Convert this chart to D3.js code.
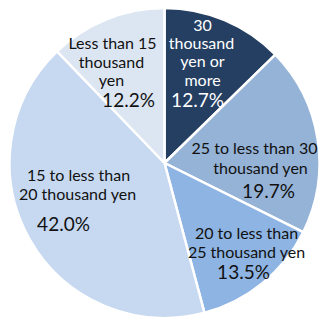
<!DOCTYPE html>
<html>
<head>
<meta charset="utf-8">
<script src="https://cdn.jsdelivr.net/npm/d3@7/dist/d3.min.js"></script>
<style>
  html, body { margin: 0; padding: 0; background: #fff; }
  svg { display: block; }
  text { font-family: Lato, "Open Sans", sans-serif; }
</style>
</head>
<body>
<svg id="chart" width="330" height="320"></svg>
<script>
// Monthly amount brackets, clockwise from 12 o'clock
const categories = [
  "30 thousand yen or more",
  "25 to less than 30 thousand yen",
  "20 to less than 25 thousand yen",
  "15 to less than 20 thousand yen",
  "Less than 15 thousand yen"
];
const shares = [12.7, 19.7, 13.5, 42.0, 12.2];
// How each category name wraps inside its slice
const labelLines = [
  ["30", "thousand", "yen or", "more"],
  ["25 to less than 30", "thousand yen"],
  ["20 to less than", "25 thousand yen"],
  ["15 to less than", "20 thousand yen"],
  ["Less than 15", "thousand", "yen"]
];
const sliceColors = ["#253f62", "#95b3d7", "#8eb4e3", "#c6d9f1", "#dce6f2"];
const textColors = ["#ffffff", "#111111", "#111111", "#111111", "#111111"];

// Label placement relative to the pie centre: line centres and percentage centre
const labelLayout = [
  { lines: [[38, -139], [37, -121], [38, -103], [38, -84]], pct: [33, -64] },
  { lines: [[90, -16], [96, 4]], pct: [104, 27] },
  { lines: [[82, 69], [82, 88]], pct: [79, 108] },
  { lines: [[-86, 11], [-87, 30]], pct: [-101, 60] },
  { lines: [[-52, -121], [-53, -102], [-53, -84]], pct: [-36, -64] }
];

const width = 330, height = 320;
const cx = 164.5, cy = 163, radius = 155;

const svg = d3.select("#chart");
const g = svg.append("g").attr("transform", `translate(${cx},${cy})`);

const data = categories.map((c, i) => ({ category: c, value: shares[i], i }));

const pie = d3.pie().sort(null).value(d => d.value);
const arc = d3.arc().innerRadius(0).outerRadius(radius);
const arcs = pie(data);

g.selectAll("path.slice")
  .data(arcs)
  .join("path")
  .attr("class", "slice")
  .attr("d", arc)
  .attr("fill", d => sliceColors[d.data.i])
  .attr("stroke", "#ffffff")
  .attr("stroke-width", 2.5)
  .attr("stroke-linejoin", "round");

const labels = g.selectAll("g.label")
  .data(arcs)
  .join("g")
  .attr("class", "label")
  .attr("fill", d => textColors[d.data.i]);

labels.each(function(d) {
  const i = d.data.i;
  const sel = d3.select(this);
  const lay = labelLayout[i];
  labelLines[i].forEach((line, k) => {
    sel.append("text")
      .attr("x", lay.lines[k][0])
      .attr("y", lay.lines[k][1])
      .attr("text-anchor", "middle")
      .attr("dominant-baseline", "central")
      .attr("font-size", 16)
      .text(line);
  });
  sel.append("text")
    .attr("x", lay.pct[0])
    .attr("y", lay.pct[1])
    .attr("text-anchor", "middle")
    .attr("dominant-baseline", "central")
    .attr("font-size", 19)
    .text(d3.format(".1f")(d.data.value) + "%");
});
</script>
</body>
</html>
